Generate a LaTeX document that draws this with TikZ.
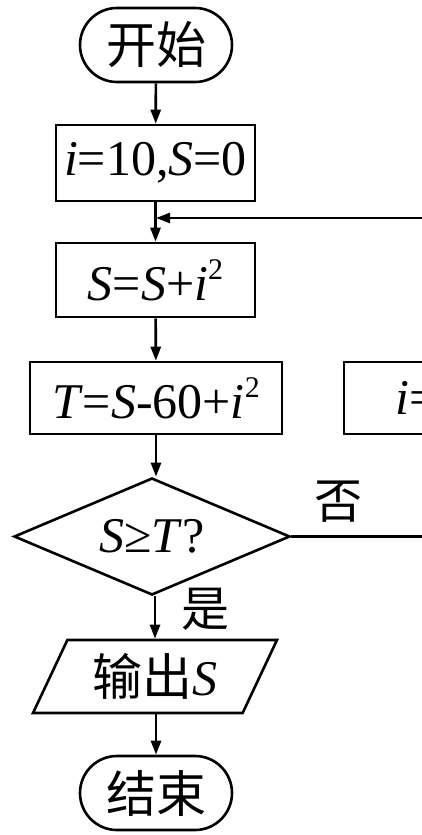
\documentclass[tikz,border=0pt]{standalone}
\usepackage{fontspec}
\setmainfont{Liberation Serif}
\newfontfamily\cjk{Noto Sans CJK SC}
\usetikzlibrary{shapes.geometric,shapes.misc,arrows.meta}
\newcommand{\sqr}{\raisebox{0.42em}{\fontsize{15}{15}\selectfont 2}}
\begin{document}
\begin{tikzpicture}[x=0.5pt,y=-0.5pt,
  every node/.style={font=\fontsize{25}{30}\selectfont, inner sep=0pt},
  base/.style={draw, line width=1.3pt},
  term/.style={base, rounded rectangle, minimum width=76pt, minimum height=37pt},
  proc/.style={base, rectangle, minimum height=37pt},
  dec/.style={base, diamond, aspect=2.36, minimum width=138pt, minimum height=58.5pt},
  io/.style={base, trapezium, trapezium left angle=62, trapezium right angle=118, trapezium stretches=true, minimum width=123pt, minimum height=36.5pt},
  lab/.style={font=\fontsize{24}{28}\selectfont\cjk},
  conn/.style={line width=1.3pt},
  arr/.style={conn, -{Triangle[length=7pt,width=5pt]}}]
\useasboundingbox (0,0) rectangle (422,835);
\clip (0,0) rectangle (422,835);
\node[term] (start) at (156,45) {\cjk 开始};
\node[proc, minimum width=99.5pt, minimum height=38pt] (b1) at (155.5,163) {\textit{i}=10,\textit{S}=0};
\node[proc, minimum width=99.5pt] (b2) at (155.5,280) {\textit{S}=\textit{S}+\textit{i}\sqr};
\node[proc, minimum width=126pt, minimum height=36pt] (b3) at (156,398) {\textit{T}=\textit{S}-60+\textit{i}\sqr};
\node[proc, minimum width=100pt, minimum height=36pt] (b4) at (444,398) {\textit{i}=\textit{i}-1};
\node[dec] (dia) at (152,536.5) {\textit{S}≥\textit{T}?};
\node[io] (out) at (155,676.5) {{\cjk 输出}\textit{S}};
\node[term] (end) at (156,793) {\cjk 结束};
\coordinate (j) at (156,218);
\node[lab] (no) at (338,502) {否};
\node[lab] (yes) at (205,609) {是};
\draw[arr] (start) -- (b1);
\draw[arr] (b1) -- (b2);
\draw[arr] (b2) -- (b3);
\draw[arr] (b3.south) -- (dia.north -| b3.south);
\draw[arr] (dia.south -| out.north) -- (out.north);
\draw[arr] (out.south -| end.north) -- (end.north);
\draw[conn] (dia.east) -- (dia.east -| b4.south) -- (b4.south);
\draw[arr] (b4.north) |- (j);
\end{tikzpicture}
\end{document}
